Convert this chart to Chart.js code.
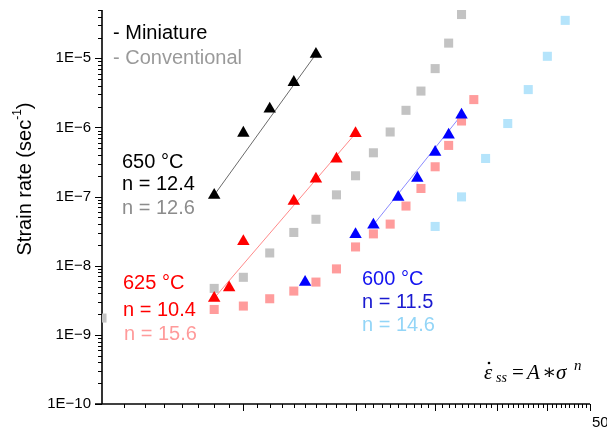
<!DOCTYPE html>
<html><head><meta charset="utf-8">
<script src="https://cdn.jsdelivr.net/npm/chart.js@4/dist/chart.umd.min.js"></script>
<style>html,body{margin:0;padding:0;background:#fff}#wrap{width:607px;height:430px;position:relative}</style>
</head><body><div id="wrap"><canvas id="c" width="607" height="430"></canvas></div>
<script>
// ---- data (stress, MPa ; steady-state strain rate, 1/s) ----
const stressMini650 = [18, 20, 22, 24, 26];
const rateMini650   = [1.05e-7, 8.3e-7, 1.85e-6, 4.5e-6, 1.15e-5];
const stressMini625 = [18, 19, 20, 24, 26, 28, 30];
const rateMini625   = [3.4e-9, 4.8e-9, 2.24e-8, 8.6e-8, 1.8e-7, 3.5e-7, 8.2e-7];
const stressMini600 = [25, 30, 32, 35, 37.5, 40, 42, 44];
const rateMini600   = [5.8e-9, 2.83e-8, 3.9e-8, 9.8e-8, 1.85e-7, 4.4e-7, 7.8e-7, 1.52e-6];
const stressConv650 = [12, 18, 20, 22, 24, 26, 28, 30, 32, 34, 36, 38, 40, 42, 44];
const rateConv650   = [1.75e-9, 4.7e-9, 6.8e-9, 1.53e-8, 3.03e-8, 4.7e-8, 1.06e-7, 2.0e-7, 4.3e-7, 8.6e-7, 1.77e-6, 3.36e-6, 7.1e-6, 1.66e-5, 4.3e-5];
const stressConv625 = [18, 20, 22, 24, 26, 28, 30, 32, 34, 36, 38, 40, 42, 44, 46];
const rateConv625   = [2.33e-9, 2.61e-9, 3.33e-9, 4.3e-9, 5.8e-9, 9.0e-9, 1.87e-8, 2.89e-8, 4.0e-8, 7.3e-8, 1.31e-7, 2.7e-7, 5.5e-7, 1.24e-6, 2.53e-6];
const stressConv600 = [40, 44, 48, 52, 56, 60, 64];
const rateConv600   = [3.7e-8, 9.9e-8, 3.56e-7, 1.14e-6, 3.53e-6, 1.07e-5, 3.54e-5];
const fitStart650 = 0, fitStart625 = 0, fitStart600 = 2;
const yTickValues = [1e-10, 1e-9, 1e-8, 1e-7, 1e-6, 1e-5];
const yTickLabels = ['1E\u221210', '1E\u22129', '1E\u22128', '1E\u22127', '1E\u22126', '1E\u22125'];
const xMajorTicks = [20, 30, 40, 50, 60, 70];
const xMin = 12, xMax = 70, yMin = 1e-10, yMax = 5e-5;

const pts = (xs, ys) => xs.map((v, i) => ({x: v, y: ys[i]}));
const fitPts = (xs, ys, s) => [{x: xs[s], y: ys[s]}, {x: xs[xs.length - 1], y: ys[ys.length - 1]}];
const tri = (xs, ys, c) => ({data: pts(xs, ys), pointStyle: 'triangle', pointRadius: 7.2, pointBackgroundColor: c, pointBorderWidth: 0, borderWidth: 0, showLine: false});
const sq = (xs, ys, c, extra) => Object.assign({data: pts(xs, ys), pointStyle: 'rect', pointRadius: 6.4, pointBackgroundColor: c, pointBorderWidth: 0, borderWidth: 0, showLine: false}, extra || {});
const fit = (xs, ys, s, c) => ({data: fitPts(xs, ys, s), showLine: true, pointRadius: 0, borderColor: c, borderWidth: 1, fill: false});

const axesPlugin = {
  id: 'axes',
  beforeDatasetsDraw(chart) {
    const {ctx, chartArea: a, scales: {x, y}} = chart;
    ctx.save();
    ctx.strokeStyle = '#000';
    ctx.lineWidth = 1;
    for (let e = -10; e <= -5; e++) {
      for (let k = 1; k <= 9; k++) {
        const v = k * Math.pow(10, e);
        if (v > yMax * 1.0001) continue;
        const py = Math.round(y.getPixelForValue(v)) + 0.5;
        const len = k === 1 ? 7 : 4;
        ctx.beginPath(); ctx.moveTo(a.left - len, py); ctx.lineTo(a.left, py); ctx.stroke();
      }
    }
    for (let v = xMin + 1; v <= xMax; v++) {
      const px = Math.round(x.getPixelForValue(v)) + 0.5;
      const len = xMajorTicks.includes(v) ? 7 : 4;
      ctx.beginPath(); ctx.moveTo(px, a.bottom); ctx.lineTo(px, a.bottom + len); ctx.stroke();
    }
    ctx.lineWidth = 1.6;
    ctx.beginPath(); ctx.moveTo(a.left, a.top); ctx.lineTo(a.left, a.bottom); ctx.stroke();
    ctx.beginPath(); ctx.moveTo(a.left - 7, a.bottom); ctx.lineTo(a.right, a.bottom); ctx.stroke();
    ctx.restore();
  }
};

const textPlugin = {
  id: 'texts',
  afterDraw(chart) {
    const ctx = chart.ctx;
    ctx.save();
    ctx.textBaseline = 'middle';
    ctx.textAlign = 'left';
    ctx.font = '20px "Liberation Sans", Arial, sans-serif';
    const T = (s, x, y, c) => { ctx.fillStyle = c; ctx.fillText(s, x, y); };
    T('- Miniature', 113, 33, '#000000');
    T('- Conventional', 113, 58, '#9a9a9a');
    T('650 \u00B0C', 122, 162, '#000000');
    T('n = 12.4', 122, 184, '#000000');
    T('n = 12.6', 122, 208, '#8c8c8c');
    T('625 \u00B0C', 123, 283, '#ff0000');
    T('n = 10.4', 123, 310, '#ff0000');
    T('n = 15.6', 124, 334, '#ff9a9a');
    T('600 \u00B0C', 362, 279, '#1414f0');
    T('n = 11.5', 362, 302, '#1a1ad0');
    T('n = 14.6', 362, 325, '#93d5f7');

    // y axis title with superscript
    ctx.save();
    ctx.translate(25, 179);
    ctx.rotate(-Math.PI / 2);
    ctx.fillStyle = '#000';
    ctx.font = '20px "Liberation Sans", Arial, sans-serif';
    const t1 = 'Strain rate (sec', t3 = ')';
    const supFont = '12px "Liberation Sans", Arial, sans-serif';
    const w1 = ctx.measureText(t1).width, w3 = ctx.measureText(t3).width;
    ctx.font = supFont; const w2 = ctx.measureText('-1').width;
    let sx = -(w1 + w2 + w3) / 2;
    ctx.font = '20px "Liberation Sans", Arial, sans-serif';
    ctx.fillText(t1, sx, 0); sx += w1;
    ctx.font = supFont; ctx.fillText('-1', sx, -7); sx += w2;
    ctx.font = '20px "Liberation Sans", Arial, sans-serif';
    ctx.fillText(t3, sx, 0);
    ctx.restore();

    // equation
    ctx.fillStyle = '#000';
    const ey = 373;
    ctx.font = 'italic 21px "Liberation Serif", "DejaVu Serif", serif';
    ctx.fillText('\u03B5', 484, ey);
    ctx.beginPath(); ctx.arc(489, ey - 10, 1.3, 0, Math.PI * 2); ctx.fill();
    ctx.font = 'italic 14px "Liberation Serif", "DejaVu Serif", serif';
    ctx.fillText('ss', 496, ey + 5);
    ctx.font = '21px "Liberation Serif", "DejaVu Serif", serif';
    ctx.fillText('=', 512, ey);
    ctx.font = 'italic 21px "Liberation Serif", "DejaVu Serif", serif';
    ctx.fillText('A', 527, ey);
    ctx.font = '21px "Liberation Serif", "DejaVu Serif", serif';
    ctx.fillText('\u2217', 542, ey);
    ctx.font = 'italic 21px "Liberation Serif", "DejaVu Serif", serif';
    ctx.fillText('\u03C3', 556, ey);
    ctx.font = 'italic 15px "Liberation Serif", "DejaVu Serif", serif';
    ctx.fillText('n', 574, ey - 7);

    // stray axis label fragment at bottom right
    ctx.font = '15px "Liberation Sans", Arial, sans-serif';
    ctx.fillText('50', 592, 423);
    ctx.restore();
  }
};

new Chart(document.getElementById('c').getContext('2d'), {
  type: 'scatter',
  data: {
    datasets: [
      tri(stressMini650, rateMini650, '#000000'),
      tri(stressMini625, rateMini625, '#ff0000'),
      tri(stressMini600, rateMini600, '#0000ff'),
      sq(stressConv650, rateConv650, '#c3c3c3', {clip: {left: 0, top: 6, right: 6, bottom: 6}}),
      sq(stressConv625, rateConv625, '#ff9c9c'),
      sq(stressConv600, rateConv600, '#b5e4fb'),
      fit(stressMini650, rateMini650, fitStart650, '#6a6a6a'),
      fit(stressMini625, rateMini625, fitStart625, '#ff8a8a'),
      fit(stressMini600, rateMini600, fitStart600, '#8a8aff')
    ]
  },
  options: {
    responsive: false,
    animation: false,
    devicePixelRatio: 1,
    layout: {padding: {top: 10, right: 17, left: 0, bottom: 0}},
    plugins: {legend: {display: false}, tooltip: {enabled: false}},
    scales: {
      x: {
        type: 'logarithmic', min: xMin, max: xMax,
        ticks: {display: false},
        grid: {display: false, drawTicks: false},
        border: {display: false},
        afterFit(s) { s.height = 26; s.paddingLeft = 0; s.paddingRight = 0; }
      },
      y: {
        type: 'logarithmic', min: yMin, max: yMax,
        grid: {display: false, drawTicks: false},
        border: {display: false},
        ticks: {
          font: {family: '"Liberation Sans", Arial, sans-serif', size: 15},
          color: '#000', padding: 11, autoSkip: false,
          callback: (v, i) => yTickLabels[i]
        },
        afterBuildTicks(s) { s.ticks = yTickValues.map(v => ({value: v})); },
        afterFit(s) { s.width = 102; s.paddingTop = 0; s.paddingBottom = 0; }
      }
    }
  },
  plugins: [axesPlugin, textPlugin]
});
</script>
</body></html>
